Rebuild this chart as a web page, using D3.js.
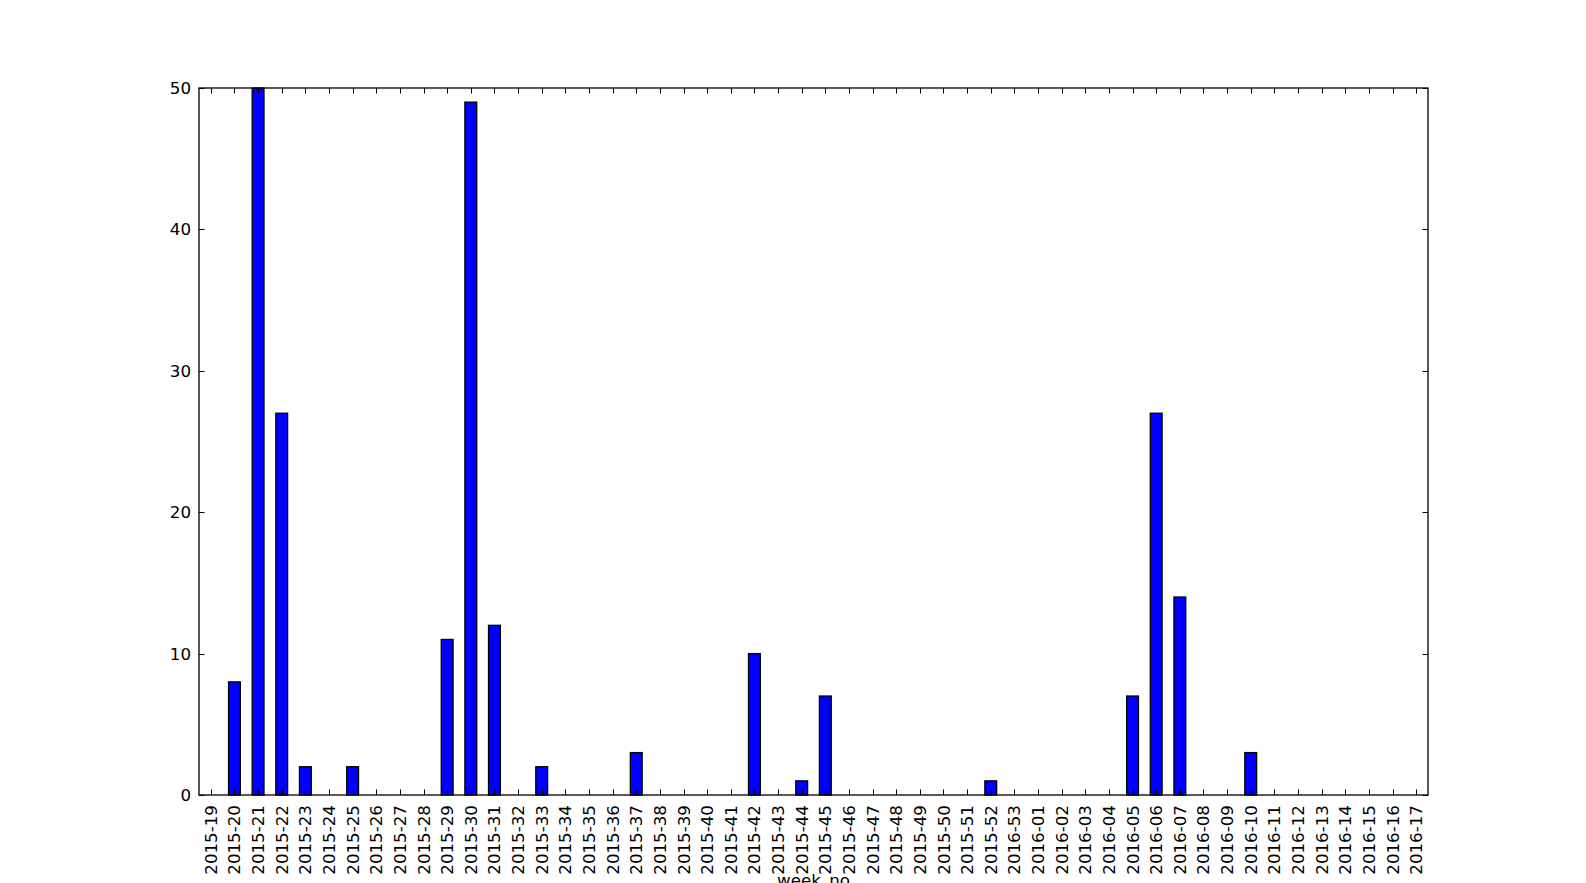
<!DOCTYPE html>
<html>
<head>
<meta charset="utf-8">
<title>week_no</title>
<script src="https://d3js.org/d3.v7.min.js"></script>
<style>
  body { margin: 0; background: #fff; }
  text { font-family: "DejaVu Sans", sans-serif; }
</style>
</head>
<body>
<svg id="svg" width="1586" height="883"></svg>
<script>
// weeks on the x axis
var weeks2015 = ["2015-19","2015-20","2015-21","2015-22","2015-23","2015-24","2015-25","2015-26","2015-27","2015-28",
  "2015-29","2015-30","2015-31","2015-32","2015-33","2015-34","2015-35","2015-36","2015-37","2015-38",
  "2015-39","2015-40","2015-41","2015-42","2015-43","2015-44","2015-45","2015-46","2015-47","2015-48",
  "2015-49","2015-50","2015-51","2015-52"];
var weeks2016 = ["2016-53","2016-01","2016-02","2016-03","2016-04","2016-05","2016-06","2016-07","2016-08","2016-09",
  "2016-10","2016-11","2016-12","2016-13","2016-14","2016-15","2016-16","2016-17"];
var counts2015 = [0,8,50,27,2,0,2,0,0,0, 11,49,12,0,2,0,0,0,3,0, 0,0,0,10,0,1,7,0,0,0, 0,0,0,1];
var counts2016 = [0,0,0,0,0,7,27,14,0,0, 3,0,0,0,0,0,0,0];
var yTicks = [0,10,20,30,40,50];

var weeks = weeks2015.concat(weeks2016);
var counts = counts2015.concat(counts2016);

function draw(){
  var svg = d3.select("#svg");
  var left = 199, right = 1428, top = 88, bottom = 795;
  var fs = 16.7;

  var x = d3.scaleBand().domain(weeks).range([left, right]).padding(0);
  var y = d3.scaleLinear().domain([0, 50]).range([bottom, top]);
  var bw = x.bandwidth() * 0.5;

  // bars
  svg.append("g").selectAll("rect")
    .data(weeks)
    .enter().append("rect")
    .attr("x", function(d){ return x(d) + x.bandwidth()/2 - bw/2; })
    .attr("y", function(d, i){ return y(counts[i]); })
    .attr("width", bw)
    .attr("height", function(d, i){ return y(0) - y(counts[i]); })
    .attr("fill", "#0000ff")
    .attr("stroke", "black")
    .attr("stroke-width", 1.3);

  // ticks, inward on all four sides
  var g = svg.append("g").attr("stroke", "black").attr("stroke-width", 1);
  weeks.forEach(function(w){
    var cx = Math.round(x(w) + x.bandwidth()/2) + 0.5;
    g.append("line").attr("x1", cx).attr("x2", cx).attr("y1", bottom).attr("y2", bottom - 5.5);
    g.append("line").attr("x1", cx).attr("x2", cx).attr("y1", top).attr("y2", top + 5.5);
  });
  yTicks.forEach(function(t){
    var cy = Math.round(y(t)) + 0.5;
    g.append("line").attr("x1", left).attr("x2", left + 5.5).attr("y1", cy).attr("y2", cy);
    g.append("line").attr("x1", right).attr("x2", right - 5.5).attr("y1", cy).attr("y2", cy);
  });

  // frame
  svg.append("rect")
    .attr("x", left).attr("y", top)
    .attr("width", right - left).attr("height", bottom - top)
    .attr("fill", "none").attr("stroke", "black").attr("stroke-width", 1.3);

  // y labels
  svg.append("g").selectAll("text")
    .data(yTicks)
    .enter().append("text")
    .attr("x", left - 8)
    .attr("y", function(d){ return y(d); })
    .attr("dy", "0.36em")
    .attr("text-anchor", "end")
    .attr("font-size", fs)
    .text(function(d){ return d; });

  // x labels, vertical
  svg.append("g").selectAll("text")
    .data(weeks)
    .enter().append("text")
    .attr("transform", function(d){
      return "translate(" + (x(d) + x.bandwidth()/2) + "," + (bottom + 10) + ") rotate(-90)";
    })
    .attr("dy", "0.36em")
    .attr("text-anchor", "end")
    .attr("font-size", fs)
    .text(function(d){ return d; });

  svg.append("text")
    .attr("x", (left + right) / 2)
    .attr("y", 886)
    .attr("text-anchor", "middle")
    .attr("font-size", fs)
    .text("week_no");
}
draw();
</script>
</body>
</html>
